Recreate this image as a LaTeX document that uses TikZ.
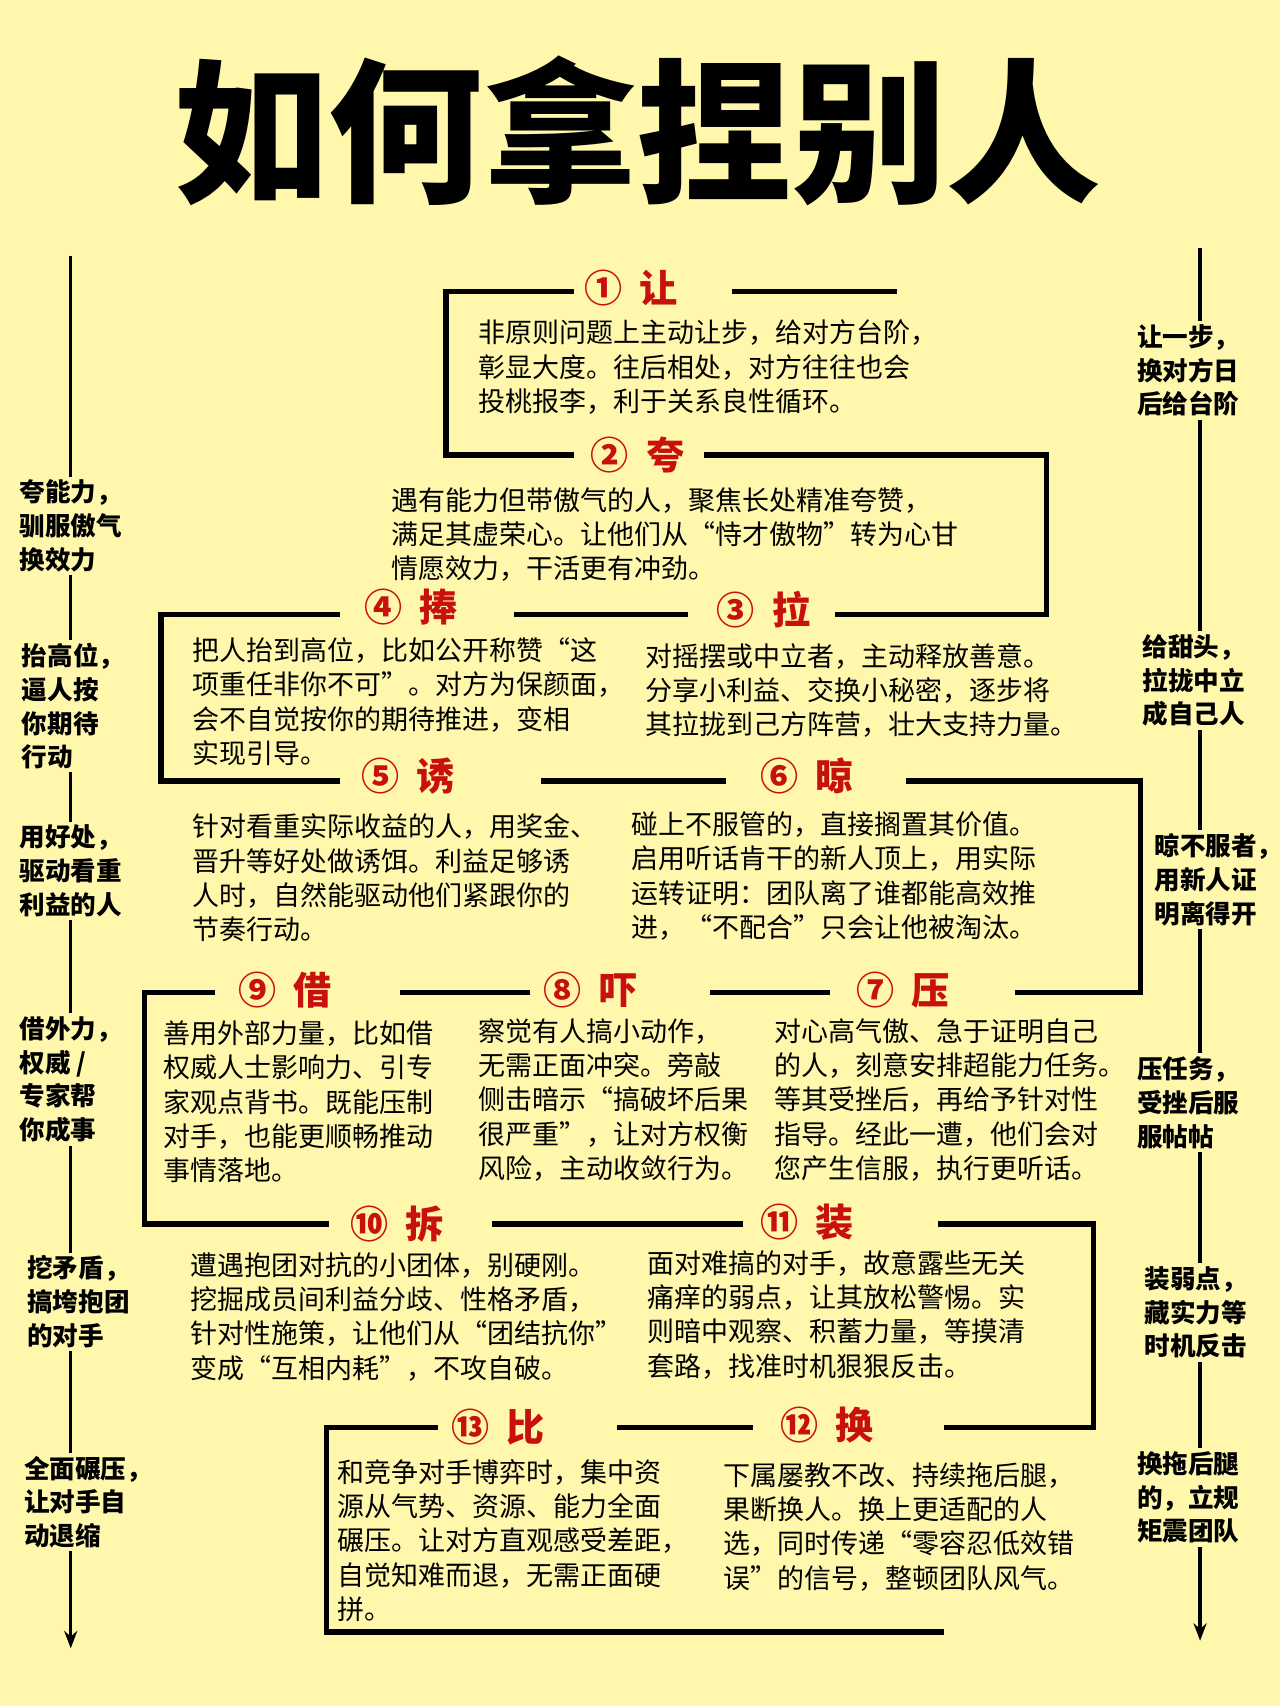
\documentclass[tikz,border=0pt]{standalone}
\usepackage{fontspec}
\setmainfont{Noto Sans CJK SC}
\usetikzlibrary{arrows.meta}
\definecolor{bg}{HTML}{FFF8AC}
\definecolor{rd}{HTML}{C8100E}
\tikzset{
 pth/.style={line width=5pt,line cap=rect},
 ttl/.style={text=rd,font=\fontsize{35}{35}\selectfont\bfseries,inner sep=0},
 body/.style={anchor=north west,align=left,inner sep=0,font=\fontsize{24.8}{31.5}\selectfont},
 side/.style={anchor=north west,align=left,inner sep=3pt,fill=bg,font=\fontsize{23.5}{31}\selectfont\bfseries},
 arr/.style={line width=3pt,-{Stealth[length=16pt,width=12pt]}}
}
\begin{document}
\begin{tikzpicture}[x=1pt,y=-1pt]
\fill[bg] (0,0) rectangle (1176,1568);
\useasboundingbox (0,0) rectangle (1176,1568);
\node[inner sep=0,font=\fontsize{142}{142}\selectfont\bfseries] (title) at (586,120) {如何拿捏别人};
% side arrows
\coordinate (la) at (65,235); \coordinate (lb) at (65,1515);
\coordinate (ra) at (1103,228); \coordinate (rb) at (1103,1508);
\draw[arr] (la) -- (lb);
\draw[arr] (ra) -- (rb);
% path
\draw[pth] (525,268) -- (410,268) -- (410,418) -- (525,418);
\draw[pth] (675,268) -- (822,268);
\draw[pth] (650,418) -- (962,418) -- (962,565) -- (770,565);
\draw[pth] (630,565) -- (475,565);
\draw[pth] (310,565) -- (148,565) -- (148,718) -- (310,718);
\draw[pth] (500,718) -- (665,718);
\draw[pth] (835,718) -- (1048,718) -- (1048,912) -- (935,912);
\draw[pth] (760,912) -- (655,912);
\draw[pth] (485,912) -- (370,912);
\draw[pth] (195,912) -- (133,912) -- (133,1125) -- (300,1125);
\draw[pth] (455,1125) -- (680,1125);
\draw[pth] (865,1125) -- (1005,1125) -- (1005,1312) -- (870,1312);
\draw[pth] (690,1312) -- (570,1312);
\draw[pth] (400,1312) -- (300,1312) -- (300,1500) -- (865,1500);
% labels
\node[ttl] (t1) at (580,265) {①\ \ 让};
\node[ttl] (t2) at (586,418) {②\ \ 夸};
\node[ttl] (t3) at (702,560) {③\ \ 拉};
\node[ttl] (t4) at (378,558) {④\ \ 捧};
\node[ttl] (t5) at (375,713) {⑤\ \ 诱};
\node[ttl] (t6) at (742,713) {⑥\ \ 晾};
\node[ttl] (t7) at (830,910) {⑦\ \ 压};
\node[ttl] (t8) at (543,910) {⑧\ \ 吓};
\node[ttl] (t9) at (262,910) {⑨\ \ 借};
\node[ttl] (t10) at (365,1125) {⑩\ \ 拆};
\node[ttl] (t11) at (742,1123) {⑪\ \ 装};
\node[ttl] (t12) at (760,1310) {⑫\ \ 换};
\node[ttl] (t13) at (458,1312) {⑬\ \ 比};
% bodies
\node[body] (b1) at (440,294) {非原则问题上主动让步，给对方台阶，\\彰显大度。往后相处，对方往往也会\\投桃报李，利于关系良性循环。};
\node[body] (b2) at (360,448) {遇有能力但带傲气的人，聚焦长处精准夸赞，\\满足其虚荣心。让他们从“恃才傲物”转为心甘\\情愿效力，干活更有冲劲。};
\node[body] (b4) at (177,586) {把人抬到高位，比如公开称赞“这\\项重任非你不可”。对方为保颜面，\\会不自觉按你的期待推进，变相\\实现引导。};
\node[body] (b3) at (593,591) {对摇摆或中立者，主动释放善意。\\分享小利益、交换小秘密，逐步将\\其拉拢到己方阵营，壮大支持力量。};
\node[body] (b5) at (177,748) {针对看重实际收益的人，用奖金、\\晋升等好处做诱饵。利益足够诱\\人时，自然能驱动他们紧跟你的\\节奏行动。};
\node[body] (b6) at (580,746) {碰上不服管的，直接搁置其价值。\\启用听话肯干的新人顶上，用实际\\运转证明：团队离了谁都能高效推\\进，“不配合”只会让他被淘汰。};
\node[body] (b9) at (150,938) {善用外部力量，比如借\\权威人士影响力、引专\\家观点背书。既能压制\\对手，也能更顺畅推动\\事情落地。};
\node[body] (b8) at (440,936) {察觉有人搞小动作，\\无需正面冲突。旁敲\\侧击暗示“搞破坏后果\\很严重”，让对方权衡\\风险，主动收敛行为。};
\node[body] (b7) at (712,936) {对心高气傲、急于证明自己\\的人，刻意安排超能力任务。\\等其受挫后，再给予针对性\\指导。经此一遭，他们会对\\您产生信服，执行更听话。};
\node[body] (b10) at (175,1151) {遭遇抱团对抗的小团体，别硬刚。\\挖掘成员间利益分歧、性格矛盾，\\针对性施策，让他们从“团结抗你”\\变成“互相内耗”，不攻自破。};
\node[body] (b11) at (595,1149) {面对难搞的对手，故意露些无关\\痛痒的弱点，让其放松警惕。实\\则暗中观察、积蓄力量，等摸清\\套路，找准时机狠狠反击。};
\node[body] (b13) at (310,1341) {和竞争对手博弈时，集中资\\源从气势、资源、能力全面\\碾压。让对方直观感受差距，\\自觉知难而退，无需正面硬\\拼。};
\node[body] (b12) at (665,1344) {下属屡教不改、持续拖后腿，\\果断换人。换上更适配的人\\选，同时传递“零容忍低效错\\误”的信号，整顿团队风气。};
% side labels
\node[side] (l1) at (15,438) {夸能力，\\驯服傲气\\换效力};
\node[side] (l2) at (17,588) {抬高位，\\逼人按\\你期待\\行动};
\node[side] (l3) at (15,755) {用好处，\\驱动看重\\利益的人};
\node[side] (l4) at (15,931) {借外力，\\权威 /\\专家帮\\你成事};
\node[side] (l5) at (22,1151) {挖矛盾，\\搞垮抱团\\的对手};
\node[side] (l6) at (19,1335) {全面碾压，\\让对手自\\动退缩};
\node[side] (r1) at (1042,295) {让一步，\\换对方日\\后给台阶};
\node[side] (r2) at (1047,580) {给甜头，\\拉拢中立\\成自己人};
\node[side] (r3) at (1058,763) {晾不服者，\\用新人证\\明离得开};
\node[side] (r4) at (1042,968) {压任务，\\受挫后服\\服帖帖};
\node[side] (r5) at (1049,1161) {装弱点，\\藏实力等\\时机反击};
\node[side] (r6) at (1042,1331) {换拖后腿\\的，立规\\矩震团队};
\end{tikzpicture}
\end{document}
